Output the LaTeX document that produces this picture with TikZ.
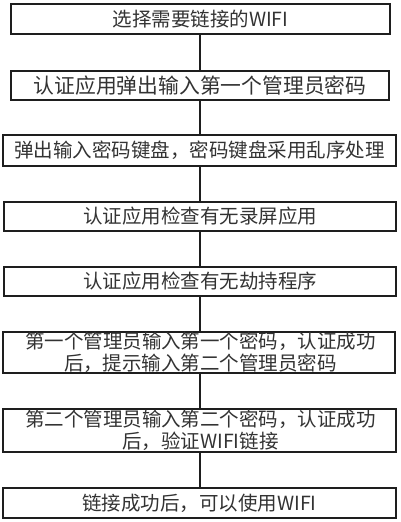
\documentclass[tikz,border=0pt]{standalone}
\usepackage{fontspec}
\newfontfamily\cjk{Noto Sans CJK SC}
\usetikzlibrary{positioning}
\definecolor{txt}{HTML}{333333}
\definecolor{bord}{HTML}{1E1E1E}
\tikzset{
  stepbox/.style={draw=bord, line width=1.5pt, rectangle, inner sep=0pt,
    text=txt, align=center, font=\cjk\fontsize{19.5}{22}\selectfont},
  steptext/.style={text=txt, align=center, inner sep=0pt, font=\cjk\fontsize{19.5}{22}\selectfont},
  link/.style={draw=bord, line width=1.4pt}
}
\begin{document}
\begin{tikzpicture}[x=1pt,y=-1pt]
\useasboundingbox (0,0) rectangle (400,522);
\fill[white] (0,0) rectangle (400,522);
\node[stepbox, minimum width=379pt, minimum height=30pt] (b1) at (200.5,19) {选择需要链接的WIFI};
\node[stepbox, minimum width=378pt, minimum height=29pt, font=\cjk\fontsize{20.8}{22}\selectfont] (b2) at (200,85.5) {认证应用弹出输入第一个管理员密码};
\node[stepbox, minimum width=393pt, minimum height=31pt] (b3) at (199.5,150.5) {弹出输入密码键盘，密码键盘采用乱序处理};
\node[stepbox, minimum width=392pt, minimum height=29pt] (b4) at (200,216.5) {认证应用检查有无录屏应用};
\node[stepbox, minimum width=392pt, minimum height=29pt] (b5) at (200,281.5) {认证应用检查有无劫持程序};
\node[stepbox, minimum width=392pt, minimum height=41pt] (b6) at (199,352.5) {};
\node[stepbox, minimum width=393pt, minimum height=43pt] (b7) at (199.5,430.5) {};
\node[stepbox, minimum width=393pt, minimum height=30pt] (b8) at (199.5,503) {链接成功后，可以使用WIFI};
\coordinate (cx) at (200,0);
\foreach \a/\b in {b1/b2,b2/b3,b3/b4,b4/b5,b5/b6,b6/b7,b7/b8}{
  \draw[link] (\a.south -| cx) -- (\b.north -| cx);
}
\node[steptext] (t6) at (200.5,352) {第一个管理员输入第一个密码，认证成功\\后，提示输入第二个管理员密码};
\node[steptext] (t7) at (200.5,430) {第二个管理员输入第二个密码，认证成功\\后，验证WIFI链接};
\end{tikzpicture}
\end{document}
